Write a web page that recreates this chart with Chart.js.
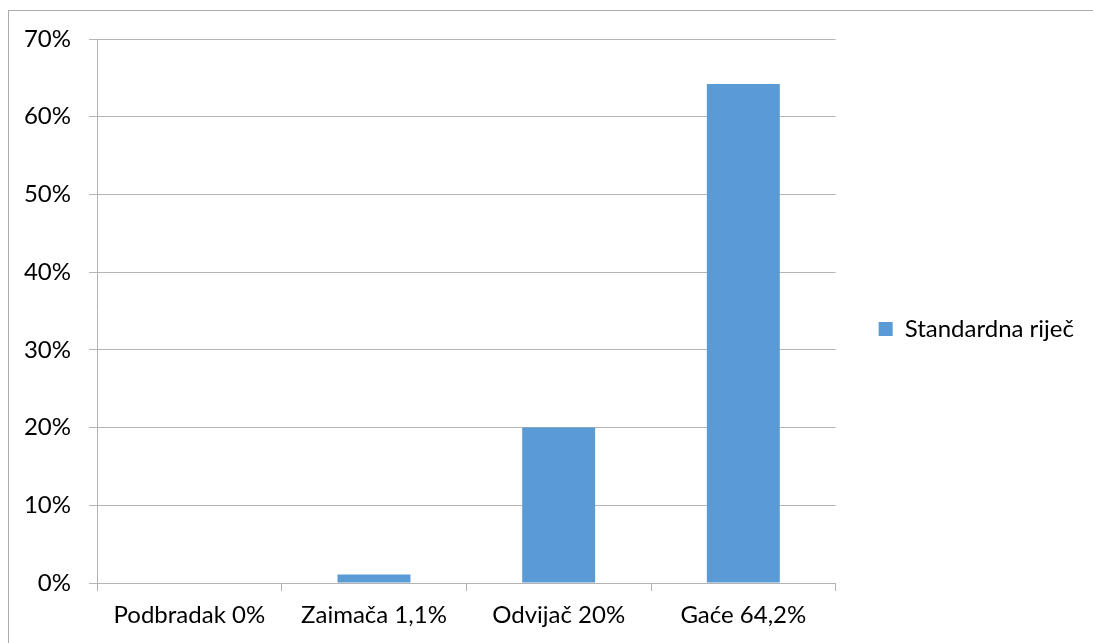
<!DOCTYPE html>
<html>
<head>
<meta charset="utf-8">
<script src="https://cdn.jsdelivr.net/npm/chart.js@4/dist/chart.umd.min.js"></script>
<style>
html,body{margin:0;padding:0;background:#fff;}
#wrap{width:1093px;height:643px;position:relative;}
</style>
</head>
<body>
<div id="wrap"><canvas id="c" width="1093" height="643"></canvas></div>
<script>
const categories = ["Podbradak 0%", "Zaimača 1,1%", "Odvijač 20%", "Gaće 64,2%"];
const seriesName = "Standardna riječ";
const values = [0, 1.1, 20, 64.2];
const yTicks = [0, 10, 20, 30, 40, 50, 60, 70];

const FONT = "Lato, 'Open Sans', sans-serif";
const FS = 24;
const GRID = "#b3b3b3";

const borderPlugin = {
  id: 'outerBorder',
  beforeDraw(chart) {
    const ctx = chart.ctx;
    ctx.save();
    ctx.fillStyle = '#fff';
    ctx.fillRect(0, 0, chart.width, chart.height);
    ctx.strokeStyle = '#ababab';
    ctx.lineWidth = 1;
    ctx.strokeRect(8.5, 10.5, 1200, 800);
    ctx.restore();
  }
};

// nudge the legend's vertical band so the entry sits where the reference has it
const legendShift = {
  id: 'legendShift',
  afterLayout(chart) {
    if (chart.legend) { chart.legend.bottom -= 24; chart.legend.height -= 24; }
  }
};

new Chart(document.getElementById('c'), {
  type: 'bar',
  data: {
    labels: categories,
    datasets: [{
      label: seriesName,
      data: values,
      backgroundColor: '#5B9BD5',
      borderWidth: 0,
      categoryPercentage: 1,
      barPercentage: 0.395
    }]
  },
  options: {
    responsive: false,
    animation: false,
    devicePixelRatio: 1,
    layout: { padding: { left: 10, top: 39, right: 9, bottom: 0 } },
    plugins: {
      tooltip: { enabled: false },
      legend: {
        position: 'right',
        align: 'center',
        labels: {
          font: { family: FONT, size: FS },
          color: '#000',
          boxWidth: 14,
          boxHeight: 14,
          padding: 43
        }
      }
    },
    scales: {
      x: {
        offset: true,
        grid: {
          display: true,
          drawOnChartArea: false,
          drawTicks: true,
          tickLength: 8,
          color: GRID,
          offset: true
        },
        border: { display: true, color: GRID, width: 1 },
        ticks: {
          font: { family: FONT, size: FS },
          color: '#000',
          padding: 10,
          maxRotation: 0,
          autoSkip: false
        },
        afterFit(scale) { scale.height = 60; }
      },
      y: {
        min: 0,
        max: 70,
        afterBuildTicks(scale) { scale.ticks = yTicks.map(v => ({ value: v })); },
        grid: {
          color: GRID,
          drawTicks: true,
          tickLength: 8
        },
        border: { display: true, color: GRID, width: 1 },
        ticks: {
          font: { family: FONT, size: FS },
          color: '#000',
          padding: 18,
          callback: v => v + '%'
        },
        afterFit(scale) { scale.width = 87; }
      }
    }
  },
  plugins: [borderPlugin, legendShift]
});
</script>
</body>
</html>
